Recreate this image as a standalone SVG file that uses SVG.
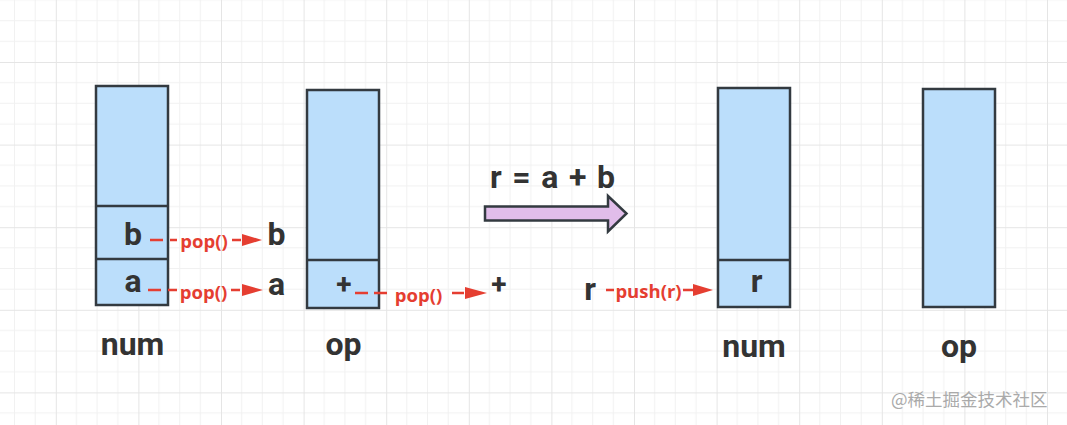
<svg xmlns="http://www.w3.org/2000/svg" width="1067" height="425" viewBox="0 0 1067 425">
  <defs>
    <pattern id="grid" patternUnits="userSpaceOnUse" x="55.8" y="62" width="82.6" height="82.6">
      <path d="M20.65 0V82.6M41.3 0V82.6M61.95 0V82.6M0 20.65H82.6M0 41.3H82.6M0 61.95H82.6" stroke="#f1f1f1" stroke-width="1" fill="none"/>
      <path d="M0.5 0V82.6M0 0.5H82.6" stroke="#e5e5e5" stroke-width="1" fill="none"/>
    </pattern>
  </defs>
  <style>
    .box { fill: #bbdefb; stroke: #333a40; stroke-width: 2.5; }
    .div { stroke: #333a40; stroke-width: 2.5; fill: none; }
    .big { font-family: Roboto, "Liberation Sans", sans-serif; font-weight: bold; font-size: 32px; fill: #333333; text-anchor: middle; }
    .lbl { font-family: "Open Sans", "Liberation Sans", sans-serif; font-weight: bold; font-size: 18.5px; fill: #e53e31; text-anchor: middle; }
    .red { stroke: #e53e31; stroke-width: 2.5; fill: none; }
    .head { fill: #e53e31; }
    .wm { font-family: "Noto Sans CJK SC", "Noto Sans", sans-serif; font-size: 17.5px; fill: #aaaaaa; }
  </style>
  <rect width="1067" height="425" fill="#ffffff"/>
  <rect width="1067" height="425" fill="url(#grid)"/>

  <g id="num-left">
    <rect class="box" x="96" y="86" width="72" height="219"/>
    <line class="div" x1="96" y1="206" x2="168" y2="206"/>
    <line class="div" x1="96" y1="259" x2="168" y2="259"/>
    <text class="big" x="133" y="245">b</text>
    <text class="big" x="133" y="292">a</text>
    <text class="big" x="132.5" y="355">num</text>
  </g>

  <g id="op-left">
    <rect class="box" x="307" y="90" width="72" height="218"/>
    <line class="div" x1="307" y1="260" x2="379" y2="260"/>
    <text class="big" x="344" y="294" style="font-size:28px">+</text>
    <text class="big" x="343.5" y="355">op</text>
  </g>

  <g id="num-right">
    <rect class="box" x="718" y="88" width="72" height="219"/>
    <line class="div" x1="718" y1="260" x2="790" y2="260"/>
    <text class="big" x="756.5" y="292">r</text>
    <text class="big" x="754" y="357">num</text>
  </g>

  <g id="op-right">
    <rect class="box" x="923" y="89" width="72" height="218"/>
    <text class="big" x="959" y="357">op</text>
  </g>

  <g id="results">
    <text class="big" x="276.5" y="245">b</text>
    <text class="big" x="276.5" y="295">a</text>
    <text class="big" x="499" y="294" style="font-size:28px">+</text>
    <text class="big" x="590" y="300">r</text>
  </g>

  <g id="transform">
    <text class="big" x="552.5" y="188" textLength="125" lengthAdjust="spacing">r = a + b</text>
    <path d="M485 206.5H608V196L626.5 213.5L608 231.5V220.5H485Z" fill="#e1bdea" stroke="#333a40" stroke-width="2.5" stroke-linejoin="miter"/>
  </g>

  <g id="connectors">
    <path class="red" d="M150 240H163M170 240H177M232 240H241"/>
    <polygon class="head" points="242,234 262,240 242,246"/>
    <text class="lbl" x="204" y="247.5">pop()</text>

    <path class="red" d="M148 290H161M168 290H177M231 290H240"/>
    <polygon class="head" points="242,284 263,290 242,296"/>
    <text class="lbl" x="203.5" y="299">pop()</text>

    <path class="red" d="M355 293H368M374 293H387M452 293H464"/>
    <polygon class="head" points="465,287 487,293 465,299"/>
    <text class="lbl" x="418.5" y="301.5">pop()</text>

    <path class="red" d="M606 290H614M683 290H694"/>
    <polygon class="head" points="693,284 713,290 693,296"/>
    <text class="lbl" x="648.5" y="298">push(r)</text>
  </g>

  <text class="wm" x="891" y="406">@稀土掘金技术社区</text>
</svg>
